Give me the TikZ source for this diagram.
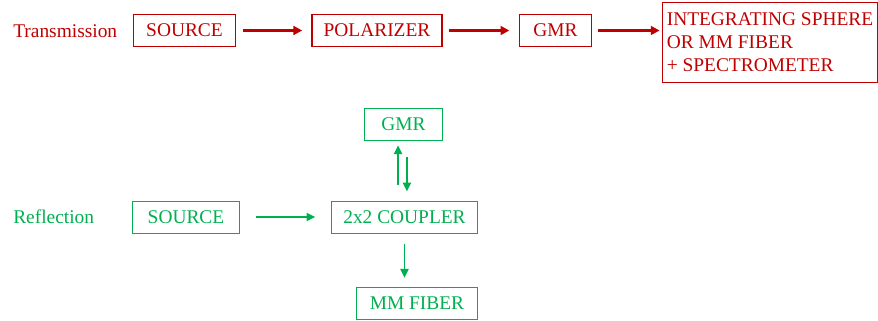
\documentclass[tikz,border=0pt]{standalone}
\usepackage{fontspec}
\setmainfont{Liberation Serif}
\usepackage{xcolor}
\usetikzlibrary{arrows.meta}
\definecolor{tred}{RGB}{192,0,0}
\definecolor{rgreen}{RGB}{0,176,80}
\tikzset{
    rbox/.style = {rectangle, color=tred, draw, line width=0.8pt, inner sep=0pt, minimum height=0.78cm},
    gbox/.style = {rectangle, color=rgreen, draw, line width=0.7pt, inner sep=0pt, minimum height=0.8cm},
    rarrow/.style = {-{Triangle[length=2.2mm,width=2.2mm]}, color=tred, line width=1.6pt},
    garrow/.style = {-{Triangle[length=2.2mm,width=2mm]}, color=rgreen, line width=1.4pt},
}
\begin{document}
\begin{tikzpicture}[
	x=0.025cm,
	y=-0.025cm,
	font=\fontsize{13.8}{16}\selectfont
]
\useasboundingbox (0,0) rectangle (878,321);
% transmission
\node[anchor=west, text=tred, inner sep=0pt] at (13,31) (tlab) {Transmission};
\node[rbox, minimum width=2.55cm] at (184.5,30.5) (tsrc) {SOURCE};
\node[rbox, minimum width=3.25cm] at (377,30.5) (tpol) {POLARIZER};
\node[rbox, minimum width=1.78cm] at (555.5,30.5) (tgmr) {GMR};
\node[rbox, minimum width=5.39cm, minimum height=1.98cm, align=left, font=\fontsize{13.8}{16.4}\selectfont] at (770,42.5) (tout) {INTEGRATING SPHERE\\OR MM FIBER\\+ SPECTROMETER};
%
\draw[rarrow, shorten <=0.17cm, shorten >=0.23cm] (tsrc.east) -- (tpol.west);
\draw[rarrow, shorten <=0.15cm, shorten >=0.25cm] (tpol.east) -- (tgmr.west);
\draw[rarrow, shorten <=0.17cm, shorten >=0.05cm] (tgmr.east) -- (tout.west |- tgmr.east);
% reflection
\node[anchor=west, text=rgreen, inner sep=0pt] at (13,217) (rlab) {Reflection};
\node[gbox, minimum width=2.65cm] at (186,217) (rsrc) {SOURCE};
\node[gbox, minimum width=3.63cm, minimum height=0.78cm] at (404.5,217.5) (rcpl) {2x2 COUPLER};
\node[gbox, minimum width=1.93cm] at (403.5,124) (rgmr) {GMR};
\node[gbox, minimum width=3cm] at (417,303) (rmmf) {MM FIBER};
%
\draw[garrow, shorten <=0.4cm, shorten >=0.4cm] (rsrc.east) -- (rcpl.west |- rsrc.east);
\draw[garrow, shorten <=0.42cm, shorten >=0.12cm] ([xshift=-0.16cm]rcpl.north) -- ([xshift=-0.16cm]rcpl.north |- rgmr.south);
\draw[garrow, shorten <=0.4cm, shorten >=0.25cm] ([xshift=0.06cm]rgmr.south -| rcpl.north) -- ([xshift=0.06cm]rcpl.north);
\draw[garrow, shorten <=0.25cm, shorten >=0.22cm] (rcpl.south) -- (rcpl.south |- rmmf.north);
\end{tikzpicture}
\end{document}
